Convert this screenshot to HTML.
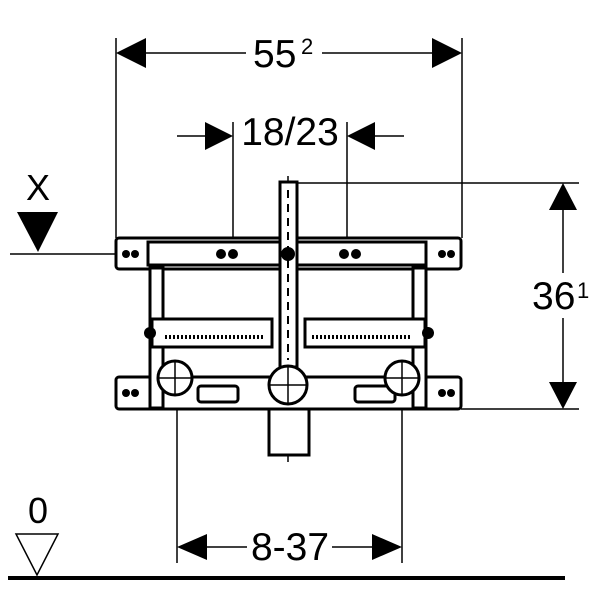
<!DOCTYPE html>
<html><head><style>body{margin:0;background:#fff}svg{display:block}</style></head><body>
<svg width="600" height="600" viewBox="0 0 600 600" xmlns="http://www.w3.org/2000/svg" font-family="Liberation Sans, sans-serif">
<rect width="600" height="600" fill="#fff"/>
<g stroke="#000" stroke-width="1.5" fill="none">
<line x1="116" y1="38" x2="116" y2="238"/>
<line x1="462" y1="38" x2="462" y2="238"/>
<line x1="140" y1="53" x2="246" y2="53"/>
<line x1="322" y1="53" x2="440" y2="53"/>
<line x1="177" y1="136" x2="210" y2="136"/>
<line x1="233" y1="122" x2="233" y2="255"/>
<line x1="347" y1="122" x2="347" y2="255"/>
<line x1="370" y1="136" x2="404" y2="136"/>
<line x1="297" y1="183" x2="579" y2="183"/>
<line x1="461" y1="409" x2="579" y2="409"/>
<line x1="563" y1="205" x2="563" y2="273"/>
<line x1="563" y1="318" x2="563" y2="385"/>
<line x1="10" y1="254" x2="116" y2="254"/>
<line x1="177" y1="378" x2="177" y2="563"/>
<line x1="402" y1="378" x2="402" y2="563"/>
<line x1="200" y1="547" x2="247" y2="547"/>
<line x1="332" y1="547" x2="380" y2="547"/>
<line x1="288" y1="176" x2="288" y2="462"/>
</g>
<g fill="#000">
<polygon points="116,53 146,38 146,68"/>
<polygon points="462,53 432,38 432,68"/>
<polygon points="233,136 205,122 205,150"/>
<polygon points="347,136 375,122 375,150"/>
<polygon points="563,183 549,210 577,210"/>
<polygon points="563,409 549,382 577,382"/>
<polygon points="177,547 207,534 207,560"/>
<polygon points="402,547 372,534 372,560"/>
<polygon points="17,212 58,212 38,252"/>
</g>
<polygon points="16,534 58,534 37,575" fill="none" stroke="#000" stroke-width="1.5"/>
<line x1="8" y1="578" x2="565" y2="578" stroke="#000" stroke-width="4"/>
<g stroke="#000" stroke-width="3" fill="#fff">
<rect x="116" y="238" width="345" height="31" rx="3"/>
<rect x="116" y="377" width="345" height="32" rx="3"/>
<rect x="150" y="268" width="13" height="140"/>
<rect x="413" y="268" width="13" height="140"/>
<rect x="148" y="242" width="278" height="23"/>
<rect x="152" y="319" width="120" height="28"/>
<rect x="305" y="319" width="120" height="28"/>
<rect x="280" y="182" width="17" height="185"/>
<rect x="269" y="409" width="40" height="46"/>
<rect x="198" y="386" width="40" height="16" rx="3"/>
<rect x="355" y="386" width="40" height="16" rx="3"/>
<circle cx="175" cy="378" r="17"/>
<circle cx="402" cy="378" r="17"/>
<circle cx="288" cy="385" r="19"/>
</g>
<g stroke="#000" stroke-width="1.5">
<line x1="158" y1="378" x2="192" y2="378"/><line x1="175" y1="361" x2="175" y2="395"/>
<line x1="385" y1="378" x2="419" y2="378"/><line x1="402" y1="361" x2="402" y2="395"/>
<line x1="269" y1="385" x2="307" y2="385"/>
<line x1="288" y1="366" x2="288" y2="404"/>
<line x1="165" y1="337" x2="265" y2="337" stroke-dasharray="2 2" stroke-width="4"/>
<line x1="312" y1="337" x2="412" y2="337" stroke-dasharray="2 2" stroke-width="4"/>
<line x1="288" y1="190" x2="288" y2="360" stroke-dasharray="8 6" stroke-width="2"/>
</g>
<g fill="#000">
<circle cx="221" cy="254" r="5"/><circle cx="233" cy="254" r="5"/>
<circle cx="344" cy="254" r="5"/><circle cx="356" cy="254" r="5"/>
<circle cx="288" cy="254" r="7"/>
<circle cx="126" cy="254" r="4"/><circle cx="135" cy="254" r="4"/>
<circle cx="442" cy="254" r="4"/><circle cx="451" cy="254" r="4"/>
<circle cx="126" cy="393" r="4"/><circle cx="135" cy="393" r="4"/>
<circle cx="442" cy="393" r="4"/><circle cx="451" cy="393" r="4"/>
<circle cx="150" cy="333" r="6"/><circle cx="428" cy="333" r="6"/>
</g>
<g font-size="39" fill="#000">
<text x="253" y="67">55</text>
<text x="290" y="145" text-anchor="middle">18/23</text>
<text x="290" y="560" text-anchor="middle">8-37</text>
<text x="532" y="309">36</text>
<text x="38" y="200" font-size="36" text-anchor="middle">X</text>
<text x="38" y="523" font-size="36" text-anchor="middle">0</text>
</g>
<text x="301" y="54" font-size="22">2</text>
<text x="577" y="298" font-size="22">1</text>
</svg>
</body></html>
